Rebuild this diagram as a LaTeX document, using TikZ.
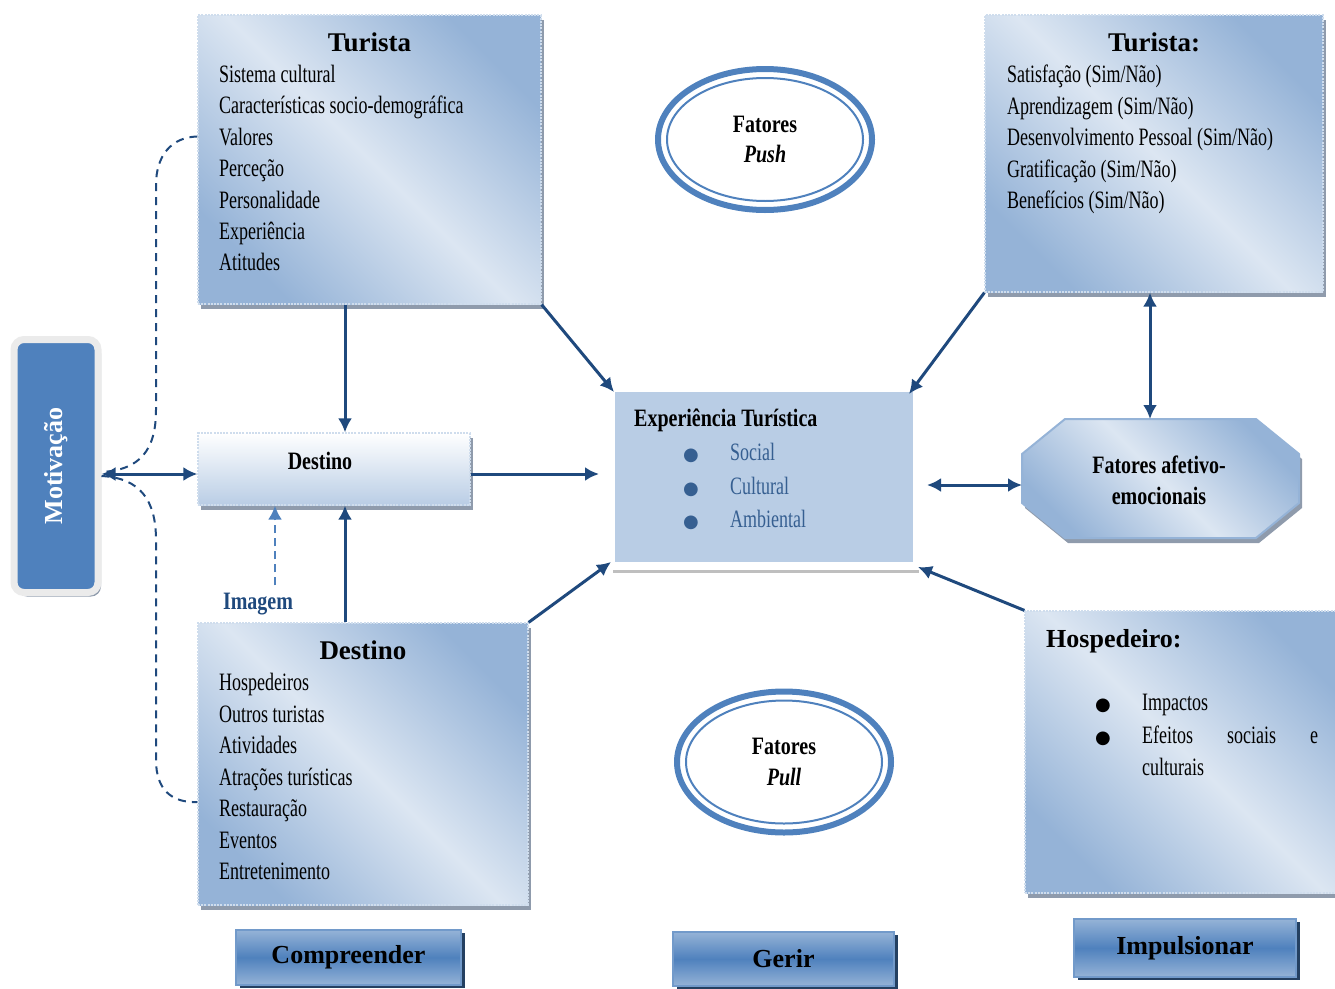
\documentclass[tikz,border=0pt]{standalone}
\usepackage{fontspec}
\setmainfont{Liberation Serif}
\newfontfamily\cond[FakeStretch=0.72]{Liberation Serif}
\newfontfamily\condb[FakeStretch=0.8]{Liberation Serif Bold}
\newfontfamily\condbi[FakeStretch=0.8]{Liberation Serif Bold Italic}
\newfontfamily\simb{DejaVu Sans}
\usepackage{tikz}
\usetikzlibrary{positioning, arrows.meta, shadows, shapes.geometric}
\usepackage{xcolor}
\definecolor{azulseta}{RGB}{31,73,125}
\definecolor{azulmed}{RGB}{79,129,189}
\definecolor{azulesc}{RGB}{149,179,215}
\definecolor{azulcla}{RGB}{220,230,242}
\definecolor{azulexp}{RGB}{185,205,229}
\definecolor{azultxt}{RGB}{54,95,145}
\definecolor{sombra}{RGB}{143,155,172}
\definecolor{sombrabtn}{RGB}{36,64,97}
\newcommand\bola{{\simb\fontsize{18}{18}\selectfont ●}}

\begin{document}
\begin{tikzpicture}[x=1pt, y=-1pt,
    caixa/.style={rectangle, inner sep=0pt, draw=white!55!azulesc, line width=1.2pt,
      dash pattern=on 2pt off 1.2pt, left color=azulesc, right color=azulesc,
      middle color=azulcla, shading angle=135,
      drop shadow={shadow xshift=3pt, shadow yshift=-5pt, fill=sombra, opacity=1}},
    destpeq/.style={caixa, top color=white, bottom color=azulexp},
    octo/.style={draw=azulesc, line width=2pt, left color=azulesc, right color=azulesc,
      middle color=azulcla, shading angle=135,
      drop shadow={shadow xshift=3pt, shadow yshift=-5pt, fill=sombra, opacity=1}},
    botao/.style={rectangle, inner sep=0pt, draw=azulmed!80!white, line width=1.5pt,
      top color=azulesc, bottom color=azulesc, middle color=azulmed,
      drop shadow={shadow xshift=4pt, shadow yshift=-3pt, fill=sombrabtn, opacity=1},
      font=\bfseries\fontsize{26}{30}\selectfont},
    elipse/.style={ellipse, draw=azulmed, line width=6pt, minimum width=214pt, minimum height=141pt,
      inner sep=0pt, align=center, font=\condb\fontsize{25}{30.5}\selectfont},
    item/.style={inner sep=0pt, align=left, anchor=north west, font=\cond\fontsize{25}{31.4}\selectfont},
    titulo/.style={inner sep=0pt, font=\bfseries\fontsize{27}{30}\selectfont},
    cbold/.style={inner sep=0pt, font=\condb\fontsize{25}{31}\selectfont},
    arr/.style={draw=azulseta, line width=3pt, -{Latex[length=14pt,width=14pt]}},
    arr2/.style={arr, {Latex[length=14pt,width=14pt]}-{Latex[length=14pt,width=14pt]}},
    tracej/.style={draw=azulseta, line width=2pt, dash pattern=on 8pt off 6pt}
    ]
    \useasboundingbox (0,0) rectangle (1335,988);

    % caixas
    \node [caixa, minimum width=343pt, minimum height=289pt] (tur1) at (369.5,159.5) {};
    \node [caixa, minimum width=338pt, minimum height=277pt] (tur2) at (1154,153.5) {};
    \node [destpeq, minimum width=272pt, minimum height=72pt] (dest1) at (334,469) {};
    \node [caixa, minimum width=330pt, minimum height=282pt] (dest2) at (363,764) {};
    \node [caixa, minimum width=320pt, minimum height=282pt] (hosp1) at (1185,752) {};
    \node [rectangle, fill=azulexp, draw=white, line width=8pt, minimum width=306pt, minimum height=178pt,
      drop shadow={shadow xshift=2pt, shadow yshift=-7pt, fill=black, opacity=.25}] (exp1) at (764,477) {};
    \node [rectangle, inner sep=0pt, outer sep=1pt, minimum width=275pt, minimum height=117pt] (afet1) at (1160.5,478.5) {};
    \path [octo] ([xshift=43pt]afet1.north west) -- ([xshift=-43pt]afet1.north east)
      -- ([yshift=-35pt]afet1.north east) -- ([yshift=35pt]afet1.south east)
      -- ([xshift=-43pt]afet1.south east) -- ([xshift=43pt]afet1.south west)
      -- ([yshift=35pt]afet1.south west) -- ([yshift=-35pt]afet1.north west) -- cycle;
    \node [cbold, align=center] (afett) at (1159,480) {Fatores afetivo-\\emocionais};
    \node [rectangle, rounded corners=10pt, fill=azulmed, draw=white!92!black, line width=7pt,
      minimum width=84pt, minimum height=253pt,
      drop shadow={shadow xshift=3pt, shadow yshift=-4pt, fill=sombra, opacity=1}] (mot1) at (56,466) {};
    \node [rotate=90, text=white, font=\bfseries\fontsize{26}{30}\selectfont] (motxt) at (mot1.center) {Motivação};

    % elipses
    \node [elipse] (push1) at (765,139.5) {Fatores\\{\condbi Push}};
    \draw [azulmed, line width=2pt] (push1.center) ellipse [x radius=98pt, y radius=61.5pt];
    \node [elipse] (pull1) at (784,762) {Fatores\\{\condbi Pull}};
    \draw [azulmed, line width=2pt] (pull1.center) ellipse [x radius=98pt, y radius=61.5pt];

    % textos
    \node [titulo, below=18pt of tur1.north] (turt1) {Turista};
    \node [item] (lst1) at (219,65) {Sistema cultural\\Características socio-demográfica\\Valores\\Perceção\\Personalidade\\Experiência\\Atitudes};
    \node [titulo, below=18pt of tur2.north] (turt2) {Turista:};
    \node [item] (lst2) at (1007,65) {Satisfação (Sim/Não)\\Aprendizagem (Sim/Não)\\Desenvolvimento Pessoal (Sim/Não)\\Gratificação (Sim/Não)\\Benefícios (Sim/Não)};
    \node [titulo, below=18pt of dest2.north] (dest2t) {Destino};
    \node [item, font=\cond\fontsize{25}{31.5}\selectfont] (lst3) at (219,673) {Hospedeiros\\Outros turistas\\Atividades\\Atrações turísticas\\Restauração\\Eventos\\Entretenimento};
    \node [cbold, anchor=base] (dest1t) at (320,469) {Destino};
    \node [cbold, anchor=base west] (expt) at (634,426) {Experiência Turística};
    \node [item, text=azultxt, font=\cond\fontsize{25}{33.5}\selectfont] (lst4) at (683,443)
      {\makebox[47pt][l]{\bola}Social\\\makebox[47pt][l]{\bola}Cultural\\\makebox[47pt][l]{\bola}Ambiental};
    \node [titulo, anchor=base west, font=\bfseries\fontsize{26}{30}\selectfont] (hospt) at (1046,647) {Hospedeiro:};
    \node [item, font=\cond\fontsize{25}{32.5}\selectfont] (lst5) at (1095,694)
      {\makebox[47pt][l]{\bola}Impactos\\\makebox[47pt][l]{\bola}\makebox[176pt][s]{Efeitos sociais e}\\\hspace*{47pt}culturais};
    \node [cbold, text=azulseta, anchor=base] (img1) at (258,609) {Imagem};

    % botoes
    \node [botao, minimum width=225pt, minimum height=55pt] (btn1) at (348.5,957.5) {Compreender};
    \node [botao, minimum width=221pt, minimum height=54pt] (btn2) at (783.5,959) {Gerir};
    \node [botao, minimum width=222pt, minimum height=58pt] (btn3) at (1185,948) {Impulsionar};

    % setas
    \draw [arr] ([xshift=-24.5pt]tur1.south) -- ([xshift=11pt]dest1.north);
    \draw [arr] (tur1.south east) -- ([xshift=7pt,yshift=-8pt]exp1.north west);
    \draw [arr, shorten >=8pt] ([yshift=-5pt]dest1.east) -- ([yshift=-5pt]dest1.east -| exp1.west);
    \draw [arr2] ([yshift=-8pt]mot1.east) -- ([yshift=-5pt]dest1.west);
    \draw [arr] ([xshift=-18pt]dest2.north) -- ([xshift=11pt]dest1.south);
    \draw [arr, draw=azulmed, line width=2.5pt, dash pattern=on 8pt off 5pt, shorten <=7pt]
      ([xshift=17pt]img1.north) -- ([xshift=-59pt]dest1.south);
    \draw [arr] (dest2.north east) -- ([xshift=4pt,yshift=8pt]exp1.south west);
    \draw [arr] (tur2.south west) -- ([xshift=-12pt,yshift=-10pt]exp1.north east);
    \draw [arr2] ([xshift=-4pt]tur2.south) -- ([xshift=-10.5pt]afet1.north);
    \draw [arr2, shorten <=6pt] ([yshift=-8pt]exp1.east) -- ([yshift=-8pt]exp1.east -| afet1.west);
    \draw [arr] (hosp1.north west) -- ([xshift=-3pt,yshift=3pt]exp1.south east);

    % tracejado
    \draw [tracej] ([yshift=23pt]tur1.west) .. controls (172,137) and (156,155) .. (156,185)
      -- (156,410) .. controls (156,450) and (140,470) .. ([yshift=-6pt]mot1.east);
    \draw [tracej] ([yshift=-10pt]mot1.east) .. controls (140,478) and (156,500) .. (156,540)
      -- (156,760) .. controls (156,790) and (172,803) .. ([yshift=-38pt]dest2.west);
\end{tikzpicture}
\end{document}
